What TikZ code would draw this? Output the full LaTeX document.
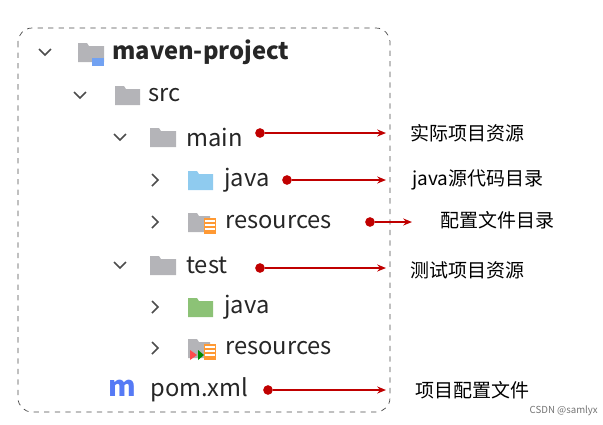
\documentclass[tikz,border=0pt]{standalone}
\usepackage{fontspec}
\setmainfont{Noto Sans CJK SC}
\usetikzlibrary{arrows.meta}
\definecolor{dred}{HTML}{C00000}
\definecolor{fgray}{HTML}{B4B4B8}
\definecolor{fblue}{HTML}{8FCBEF}
\definecolor{fgreen}{HTML}{8CC276}
\begin{document}
\begin{tikzpicture}[x=0.02cm,y=-0.02cm,
  t/.style={anchor=west,inner sep=0pt,font=\fontsize{13.5pt}{15pt}\selectfont,text=black!85},
  lab/.style={anchor=west,inner sep=0pt,font=\fontsize{10.8pt}{13pt}\selectfont},
  dot/.style={circle,fill=dred,inner sep=0pt,minimum size=5.5pt},
  arr/.style={draw=dred,line width=1.2pt,-{Stealth[length=5pt,width=4pt]}},
  chev/.style={draw=black!70,line width=0.9pt}]
\useasboundingbox (0,0) rectangle (603,424);
\draw[dashed,rounded corners=8pt,black!70] (18,28) rectangle (390,412);
\newcommand{\chd}[2]{\draw[chev] (#1-6,#2-3) -- (#1,#2+3) -- (#1+6,#2-3);}
\newcommand{\chr}[2]{\draw[chev] (#1-3,#2-6) -- (#1+3,#2) -- (#1-3,#2+6);}
\newcommand{\fold}[4]{\fill[#4] (#1,#2-9) -- (#1+9,#2-9) -- (#1+11,#2-6) -- (#1+#3,#2-6) -- (#1+#3,#2+10) -- (#1,#2+10) -- cycle;}
\chd{45}{52}
\fold{78}{52}{26}{fgray}
\fill[fblue!80!blue] (92,58) rectangle (104,66);
\node[t,font=\fontsize{13.5pt}{15pt}\selectfont\bfseries] (mp) at (112,52) {maven-project};
\chd{80}{95}
\fold{115}{95}{25}{fgray}
\node[t] (src) at (148,95) {src};
\chd{120}{137}
\fold{150}{137}{26}{fgray}
\node[t] (main) at (186,137) {main};
\chr{155}{180}
\fold{188}{180}{25}{fblue}
\node[t] (java) at (224,180) {java};
\chr{155}{222}
\fold{188}{222}{22}{fgray}
\fill[orange!80] (204,218) rectangle (216,234);
\foreach \yy in {221,225,229} \draw[white,line width=0.6pt] (205,\yy) -- (215,\yy);
\node[t] (res) at (225,222) {resources};
\chd{120}{265}
\fold{150}{265}{26}{fgray}
\node[t] (test) at (186,265) {test};
\chr{155}{307}
\fold{188}{307}{25}{fgreen}
\node[t] (java2) at (224,307) {java};
\chr{155}{348}
\fold{188}{348}{22}{fgray}
\fill[orange!80] (204,344) rectangle (216,360);
\foreach \yy in {347,351,355} \draw[white,line width=0.6pt] (205,\yy) -- (215,\yy);
\fill[red!70] (190,350) -- (197,355) -- (190,360) -- cycle;
\fill[green!55!black] (198,350) -- (204,355) -- (198,360) -- cycle;
\node[t] (res2) at (225,348) {resources};
\node[anchor=west,inner sep=0pt,text=fblue!60!blue,font=\fontsize{16pt}{18pt}\selectfont\itshape\bfseries] (mi) at (108,388) {m};
\node[t] (pom) at (150,390) {pom.xml};
\node[dot] (d1) at (260,133) {};
\node[dot] (d2) at (287,180) {};
\node[dot] (d3) at (370,222) {};
\node[dot] (d4) at (260,268) {};
\node[dot] (d5) at (268,390) {};
\coordinate (e1) at (386,133);
\coordinate (e2) at (386,180);
\coordinate (e3) at (412,222);
\coordinate (e4) at (386,268);
\coordinate (e5) at (386,390);
\foreach \i in {1,...,5} \draw[arr] (d\i) -- (e\i);
\node[lab] (l1) at (410,133) {实际项目资源};
\node[lab] (l2) at (412,180) {java源代码目录};
\node[lab] (l3) at (440,220) {配置文件目录};
\node[lab] (l4) at (410,270) {测试项目资源};
\node[lab] (l5) at (415,390) {项目配置文件};
\node[anchor=east,inner sep=0pt,text=black!55,font=\fontsize{5.5pt}{7pt}\selectfont] (wm) at (598,411) {CSDN @samlyx};
\end{tikzpicture}
\end{document}
